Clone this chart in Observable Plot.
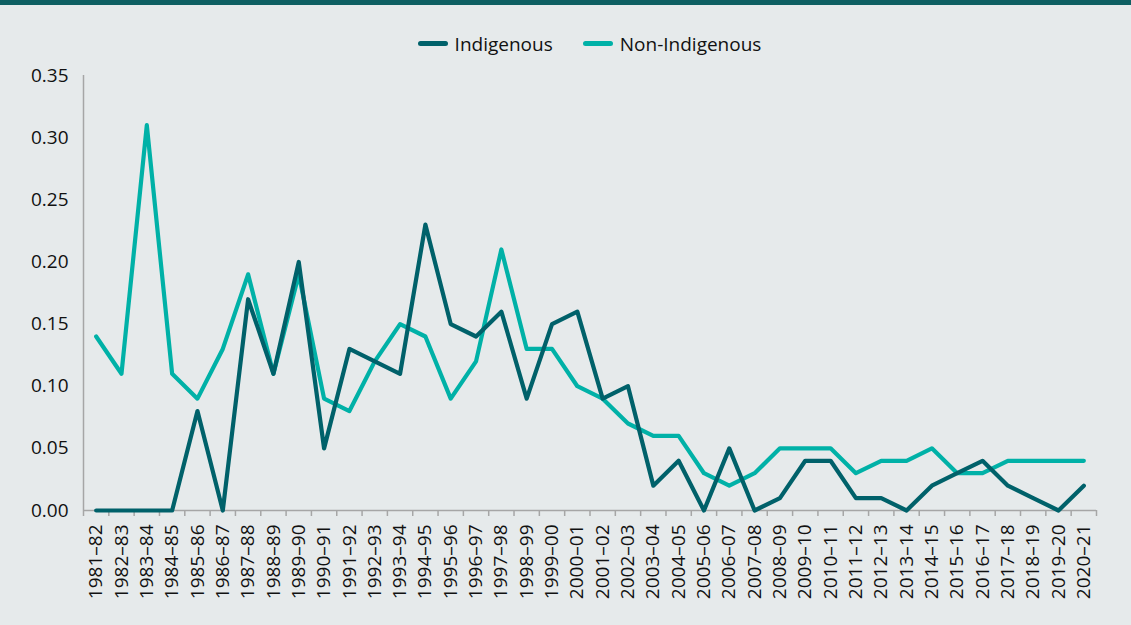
<!DOCTYPE html>
<html>
<head>
<meta charset="utf-8">
<script src="https://cdn.jsdelivr.net/npm/d3@7"></script>
<script src="https://cdn.jsdelivr.net/npm/@observablehq/plot@0.6"></script>
<style>
  html, body { margin: 0; padding: 0; background: #e6eaeb; width: 1131px; height: 625px; overflow: hidden; font-family: "Open Sans", sans-serif; }
  #topbar { height: 5px; background: #0e5f62; }
  #legend { height: 55px; box-sizing: border-box; padding: 22px 35px 0 83px; display: flex; justify-content: center; align-items: center; gap: 30px; font-size: 19px; color: #111; line-height: 24px; }
  #legend .item { display: flex; align-items: center; gap: 7px; }
  #legend .sw { width: 30px; height: 5px; border-radius: 3px; display: inline-block; }
</style>
</head>
<body>
<div id="topbar"></div>
<div id="legend"></div>
<div id="chart"></div>
<script>
const years = ["1981–82","1982–83","1983–84","1984–85","1985–86","1986–87","1987–88","1988–89","1989–90","1990–91","1991–92","1992–93","1993–94","1994–95","1995–96","1996–97","1997–98","1998–99","1999–00","2000–01","2001–02","2002–03","2003–04","2004–05","2005–06","2006–07","2007–08","2008–09","2009–10","2010–11","2011–12","2012–13","2013–14","2014–15","2015–16","2016–17","2017–18","2018–19","2019–20","2020–21"];
const indigenous = [0,0,0,0,0.08,0,0.17,0.11,0.20,0.05,0.13,0.12,0.11,0.23,0.15,0.14,0.16,0.09,0.15,0.16,0.09,0.10,0.02,0.04,0,0.05,0,0.01,0.04,0.04,0.01,0.01,0,0.02,0.03,0.04,0.02,0.01,0,0.02];
const nonIndigenous = [0.14,0.11,0.31,0.11,0.09,0.13,0.19,0.11,0.19,0.09,0.08,0.12,0.15,0.14,0.09,0.12,0.21,0.13,0.13,0.10,0.09,0.07,0.06,0.06,0.03,0.02,0.03,0.05,0.05,0.05,0.03,0.04,0.04,0.05,0.03,0.03,0.04,0.04,0.04,0.04];
const yTicks = [0,0.05,0.10,0.15,0.20,0.25,0.30,0.35];
const seriesNames = ["Indigenous","Non-Indigenous"];
const seriesColors = ["#00616a","#00b1a7"];

const rows = [];
years.forEach((y, i) => {
  rows.push({i, year: y, series: seriesNames[1], value: nonIndigenous[i]});
});
years.forEach((y, i) => {
  rows.push({i, year: y, series: seriesNames[0], value: indigenous[i]});
});

// legend
const leg = document.getElementById("legend");
seriesNames.forEach((n, k) => {
  const it = document.createElement("div");
  it.className = "item";
  it.innerHTML = `<span class="sw" style="background:${seriesColors[k]}"></span><span>${n}</span>`;
  leg.appendChild(it);
});

const idx = d3.range(years.length);
const bounds = d3.range(years.length + 1).map(i => i - 0.5);

const chart = Plot.plot({
  width: 1131,
  height: 565,
  marginTop: 15,
  marginBottom: 115,
  marginLeft: 83,
  marginRight: 35,
  style: {background: "transparent", fontFamily: "Open Sans, sans-serif", fontSize: "19px", color: "#111"},
  x: {type: "linear", domain: [-0.5, years.length - 0.5]},
  y: {domain: [0, 0.35]},
  color: {domain: seriesNames, range: seriesColors},
  marks: [
    Plot.axisY({ticks: yTicks, tickFormat: d3.format(".2f"), tickSize: 0, tickPadding: 15, label: null, fontSize: 19, fill: "#111"}),
    Plot.axisX({ticks: bounds, tickFormat: () => "", tickSize: 6, stroke: "#a6a6a6", strokeWidth: 1.5, strokeOpacity: 1, label: null}),
    Plot.axisX({ticks: idx, tickFormat: i => years[i], tickSize: 0, tickPadding: 14, tickRotate: -90, label: null, fontSize: 19, fill: "#111"}),
    Plot.ruleY([0], {x1: -0.5, x2: years.length - 0.5, stroke: "#a6a6a6", strokeWidth: 1.5}),
    Plot.ruleX([-0.5], {y1: 0, y2: 0.35, stroke: "#a6a6a6", strokeWidth: 1.5}),
    Plot.line(rows, {x: "i", y: "value", z: "series", stroke: "series", strokeWidth: 4.2, strokeLinejoin: "round", strokeLinecap: "round"})
  ]
});
document.getElementById("chart").appendChild(chart);
</script>
</body>
</html>
